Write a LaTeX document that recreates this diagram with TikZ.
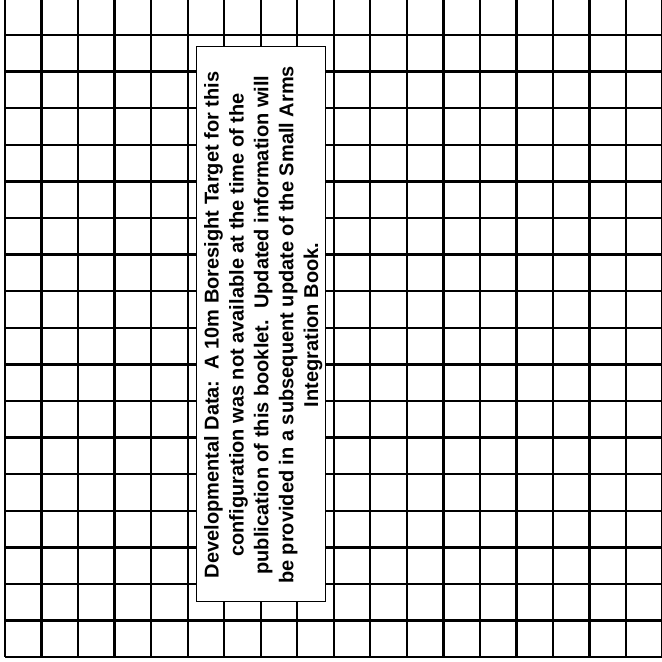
\documentclass[tikz,border=0pt]{standalone}
\usepackage{fontspec}
\setmainfont{Liberation Sans}
\usetikzlibrary{positioning}
\tikzset{
    gridline/.style={draw=black, line width=1.15pt},
    notebox/.style={draw=black, line width=0.5pt, fill=white},
    notetext/.style={font=\fontsize{10}{12.45}\selectfont\bfseries, align=center, inner sep=0pt, rotate=90}
}

\begin{document}
\begin{tikzpicture}[x=0.5pt, y=-0.5pt]
    \useasboundingbox (0,0) rectangle (661,662);
    \fill [white] (0,0) rectangle (661,662);
    % boresight grid
    \foreach \i in {0,...,18} {
        \draw [gridline] ({5+36.53*\i},-2) -- ({5+36.53*\i},657);
        \draw [gridline] (5,{-1.6+36.6*\i}) -- (664,{-1.6+36.6*\i});
    }
    \draw [notebox] (196,47) rectangle (325,601);
    \node [notetext] (note) at (263.3,325) {Developmental Data:\ \ A 10m Boresight Target for this\\configuration was not available at the time of the\\publication of this booklet.\ \ Updated information will\\be provided in a subsequent update of the Small Arms\\Integration Book.};
\end{tikzpicture}
\end{document}
